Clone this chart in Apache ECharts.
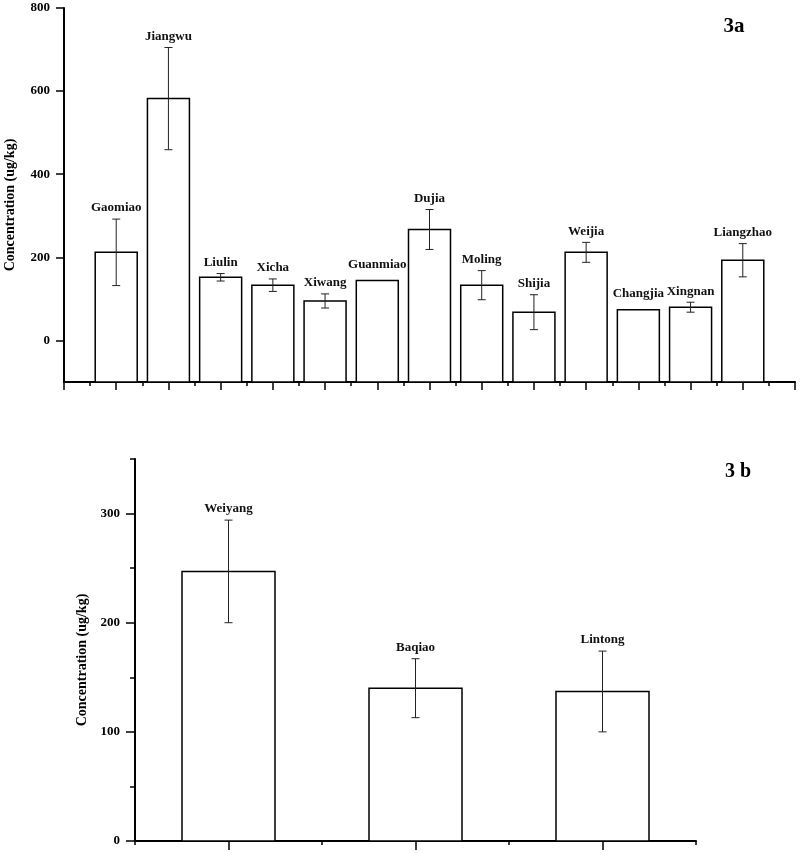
<!DOCTYPE html>
<html>
<head>
<meta charset="utf-8">
<script src="https://cdn.jsdelivr.net/npm/echarts@6/dist/echarts.min.js"></script>
<style>html,body{margin:0;padding:0;background:#fff}#c{width:800px;height:853px}</style>
</head>
<body>
<div id="c"></div>
<script>
// ---- Panel 3a data ----
var sitesA = ['Gaomiao','Jiangwu','Liulin','Xicha','Xiwang','Guanmiao','Dujia','Moling','Shijia','Weijia','Changjia','Xingnan','Liangzhao'];
var positionsA = [1,2,3,4,5,6,7,8,9,10,11,12,13];
var valuesA = [212, 582, 152, 133, 95, 144, 267, 133, 68, 212, 74, 80, 193];
var errorsA = [80, 123, 9, 15, 17, 0, 48, 35, 42, 24, 0, 12, 40];
var yTicksA = [0, 200, 400, 600, 800];
var yRangeA = [-100, 800];

// ---- Panel 3b data ----
var sitesB = ['Weiyang','Baqiao','Lintong'];
var positionsB = [1,2,3];
var valuesB = [247, 140, 137];
var errorsB = [47, 27, 37];
var yTicksB = [0, 100, 200, 300];
var yMinorTicksB = [50, 150, 250, 350];
var yRangeB = [0, 350];
var xMajorTicksB = [1, 2, 3];
var xMinorTicksB = [0.5, 1.5, 2.5, 3.5];

var serif = '"Liberation Serif","Times New Roman",serif';
var black = '#000';

function rows(xs, ys, es) { return xs.map(function (x, i) { return [x, ys[i], es[i]]; }); }

// bars drawn from the axis minimum (the bars sit on the x axis line)
function barRenderer(baseValue, width) {
  return function (params, api) {
    var x = api.value(0), v = api.value(1);
    var top = api.coord([x, v]);
    var base = api.coord([x, baseValue]);
    return {
      type: 'rect',
      shape: { x: top[0] - width / 2, y: top[1], width: width, height: base[1] - top[1] },
      style: { fill: '#fff', stroke: black, lineWidth: 1.5 }
    };
  };
}

function errRenderer(names) {
  return function (params, api) {
    var x = api.value(0), v = api.value(1), e = api.value(2);
    var top = api.coord([x, v + e]);
    var bot = api.coord([x, v - e]);
    var children = [];
    var ls = { stroke: '#222', lineWidth: 1 };
    if (e > 0) {
      children.push({ type: 'line', shape: { x1: top[0], y1: top[1], x2: bot[0], y2: bot[1] }, style: ls });
      children.push({ type: 'line', shape: { x1: top[0] - 4, y1: top[1], x2: top[0] + 4, y2: top[1] }, style: ls });
      children.push({ type: 'line', shape: { x1: bot[0] - 4, y1: bot[1], x2: bot[0] + 4, y2: bot[1] }, style: ls });
    }
    children.push({
      type: 'text',
      style: {
        text: names[params.dataIndex], x: top[0], y: top[1] - (e > 0 ? 11 : 16),
        align: 'center', verticalAlign: 'middle',
        font: 'bold 13px ' + serif, fill: '#111'
      }
    });
    return { type: 'group', children: children };
  };
}

var axisLine = { show: true, onZero: false, lineStyle: { color: black, width: 2 } };
var labelStyle = { fontFamily: serif, fontWeight: 'bold', fontSize: 13, color: black };

var option = {
  animation: false,
  backgroundColor: '#fff',
  grid: [
    { left: 64, right: 5, top: 8, bottom: 471, containLabel: false },
    { left: 135, right: 104, top: 459, bottom: 12, containLabel: false }
  ],
  xAxis: [
    {
      gridIndex: 0, type: 'value', min: 0, max: 14, interval: 1,
      axisLine: axisLine,
      axisTick: { show: true, length: 8, lineStyle: { color: black, width: 1.5 } },
      minorTick: { show: true, splitNumber: 2, length: 4, lineStyle: { color: black, width: 1.5 } },
      axisLabel: { show: false }, splitLine: { show: false }, minorSplitLine: { show: false }
    },
    {
      gridIndex: 1, type: 'value', min: 0.5, max: 3.5, position: 'bottom',
      axisLine: axisLine,
      axisTick: { show: true, length: 9, customValues: xMajorTicksB, lineStyle: { color: black, width: 1.5 } },
      axisLabel: { show: false }, splitLine: { show: false }
    },
    {
      gridIndex: 1, type: 'value', min: 0.5, max: 3.5, position: 'bottom',
      axisLine: { show: false, onZero: false },
      axisTick: { show: true, length: 4, customValues: xMinorTicksB, lineStyle: { color: black, width: 1.5 } },
      axisLabel: { show: false }, splitLine: { show: false }
    }
  ],
  yAxis: [
    {
      gridIndex: 0, type: 'value', min: yRangeA[0], max: yRangeA[1],
      axisLine: axisLine,
      axisTick: { show: true, length: 8, customValues: yTicksA, lineStyle: { color: black, width: 1.5 } },
      axisLabel: Object.assign({ margin: 14, customValues: yTicksA }, labelStyle),
      splitLine: { show: false }
    },
    {
      gridIndex: 1, type: 'value', min: yRangeB[0], max: yRangeB[1], position: 'left',
      axisLine: axisLine,
      axisTick: { show: true, length: 9, customValues: yTicksB, lineStyle: { color: black, width: 1.5 } },
      axisLabel: Object.assign({ margin: 15, customValues: yTicksB }, labelStyle),
      splitLine: { show: false }
    },
    {
      gridIndex: 1, type: 'value', min: yRangeB[0], max: yRangeB[1], position: 'left',
      axisLine: { show: false, onZero: false },
      axisTick: { show: true, length: 5, customValues: yMinorTicksB, lineStyle: { color: black, width: 1.5 } },
      axisLabel: { show: false },
      splitLine: { show: false }
    }
  ],
  series: [
    {
      type: 'custom', xAxisIndex: 0, yAxisIndex: 0, z: 2,
      data: rows(positionsA, valuesA, errorsA),
      encode: { x: 0, y: 1 },
      renderItem: barRenderer(yRangeA[0], 42)
    },
    {
      type: 'custom', xAxisIndex: 0, yAxisIndex: 0, z: 5,
      data: rows(positionsA, valuesA, errorsA),
      encode: { x: 0, y: 1 },
      renderItem: errRenderer(sitesA)
    },
    {
      type: 'custom', xAxisIndex: 1, yAxisIndex: 1, z: 2,
      data: rows(positionsB, valuesB, errorsB),
      encode: { x: 0, y: 1 },
      renderItem: barRenderer(yRangeB[0], 93)
    },
    {
      type: 'custom', xAxisIndex: 1, yAxisIndex: 1, z: 5,
      data: rows(positionsB, valuesB, errorsB),
      encode: { x: 0, y: 1 },
      renderItem: errRenderer(sitesB)
    }
  ],
  graphic: [
    { type: 'text', x: 10, y: 205, rotation: Math.PI / 2,
      style: { text: 'Concentration (ug/kg)', align: 'center', verticalAlign: 'middle', font: 'bold 14px ' + serif, fill: black } },
    { type: 'text', x: 82, y: 660, rotation: Math.PI / 2,
      style: { text: 'Concentration (ug/kg)', align: 'center', verticalAlign: 'middle', font: 'bold 14px ' + serif, fill: black } },
    { type: 'text', x: 734, y: 27,
      style: { text: '3a', align: 'center', verticalAlign: 'middle', font: 'bold 21px ' + serif, fill: black } },
    { type: 'text', x: 738, y: 472,
      style: { text: '3 b', align: 'center', verticalAlign: 'middle', font: 'bold 20px ' + serif, fill: black } }
  ]
};

var chart = echarts.init(document.getElementById('c'), null, { renderer: 'canvas' });
chart.setOption(option);
</script>
</body>
</html>
